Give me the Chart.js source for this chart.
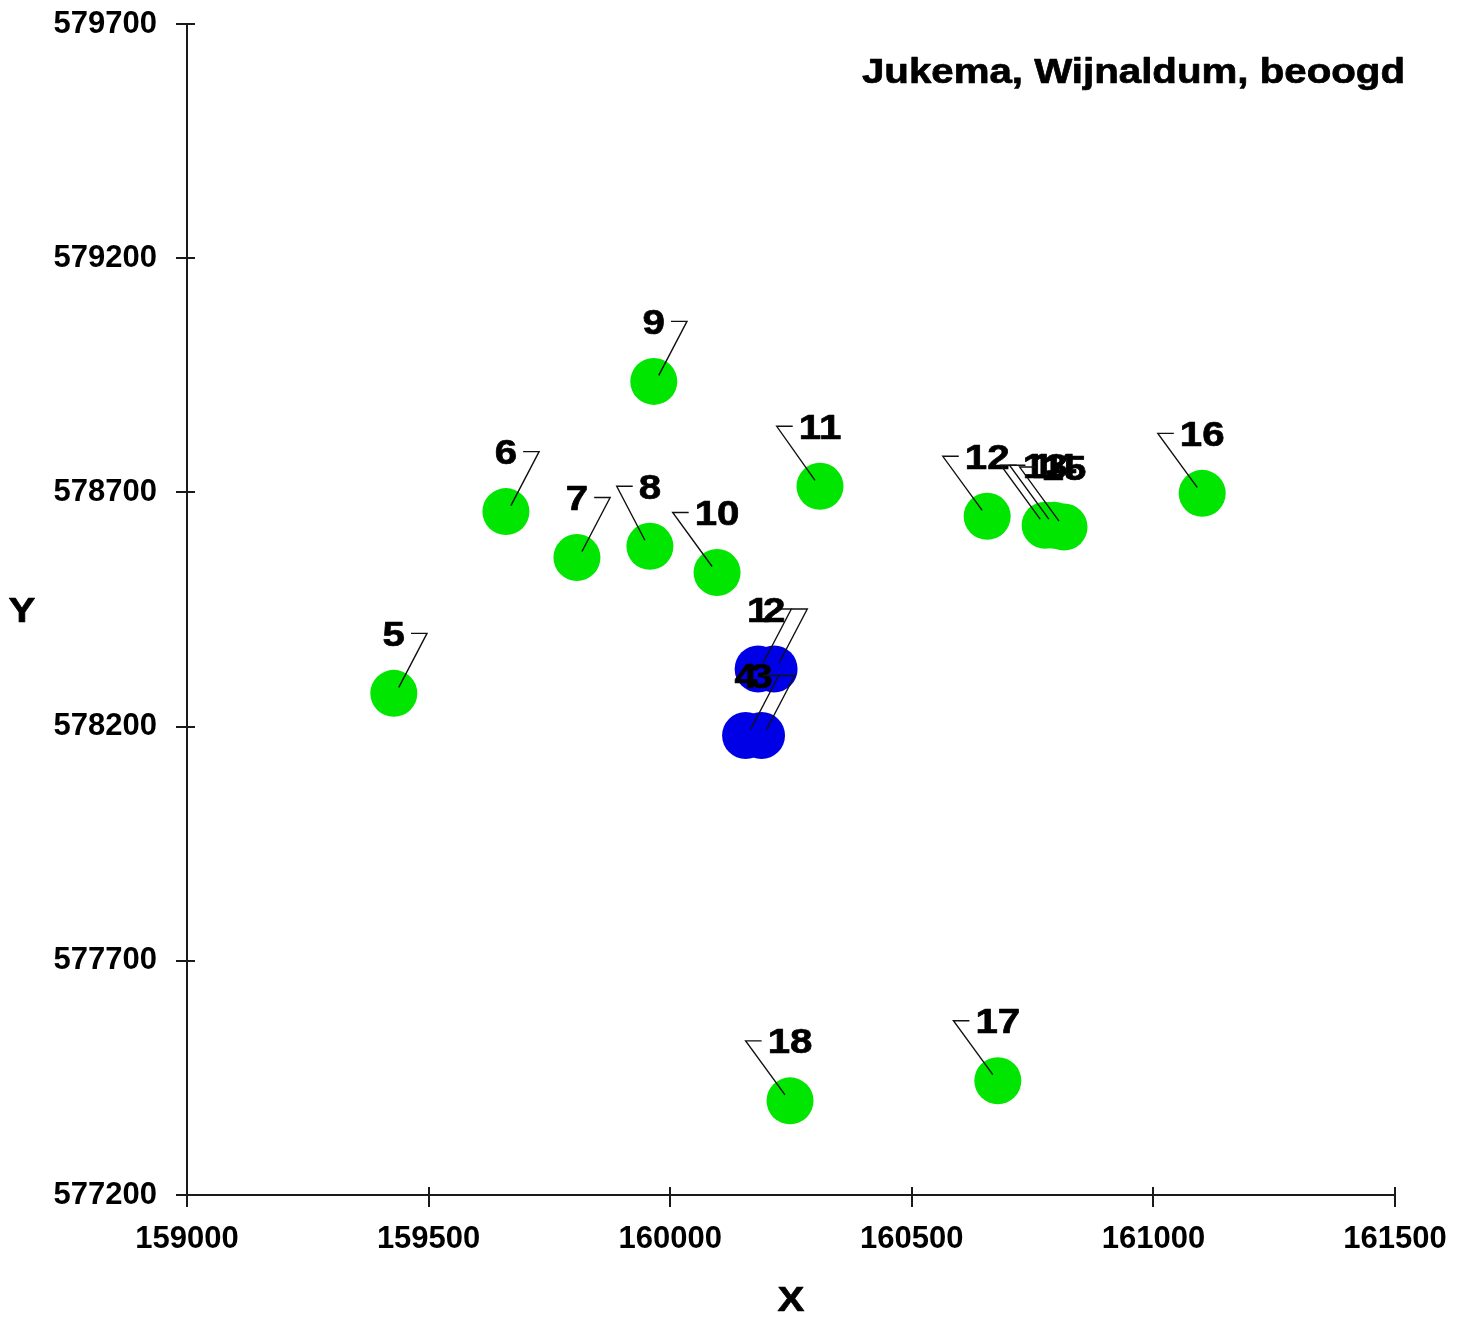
<!DOCTYPE html>
<html>
<head>
<meta charset="utf-8">
<script src="https://cdn.jsdelivr.net/npm/chart.js@4/dist/chart.umd.min.js"></script>
<style>
  html, body { margin: 0; padding: 0; background: #ffffff; }
  #wrap { width: 1466px; height: 1321px; position: relative; }
</style>
</head>
<body>
<div id="wrap"><canvas id="c"></canvas></div>
<script>
// Well locations (RD coordinates) — planned wells in green, existing in blue
const greenIds = ['5', '6', '7', '8', '9', '10', '11', '12', '13', '14', '15', '16', '17', '18'];
const greenX = [159428, 159660, 159807, 159958, 159966, 160097, 160310, 160656, 160776, 160794, 160815, 161101, 160678, 160248];
const greenY = [578271, 578659, 578561, 578585, 578937, 578529, 578713, 578649, 578630, 578630, 578626, 578698, 577444, 577401];

const blueIds = ['1', '2', '3', '4'];
const blueX = [160182, 160215, 160189, 160156];
const blueY = [578323, 578323, 578181, 578181];

const xTicks = [159000, 159500, 160000, 160500, 161000, 161500];
const yTicks = [577200, 577700, 578200, 578700, 579200, 579700];

const chartTitle = 'Jukema, Wijnaldum, beoogd';
const xTitle = 'X';
const yTitle = 'Y';

// Labels whose leader bends to the right of the text; all others bend left
const leaderRight = new Set(['1', '2', '3', '4', '5', '6', '7', '9']);

const FONT = '"Liberation Sans", Arial, Helvetica, sans-serif';
const TEXT_STRETCH = 1.15;
const LABEL_SIZE = 35;
const INK = '#000000';
const AXIS = '#1a1a1a';

function toPoints(xs, ys, ids) {
  return xs.map((x, i) => ({ x: x, y: ys[i], id: ids[i] }));
}

// Bold text widened horizontally, positioned by the vertical centre of its capitals
function wideText(ctx, text, x, cy, size, align) {
  ctx.save();
  ctx.font = `bold ${size}px ${FONT}`;
  const w = ctx.measureText(text).width * TEXT_STRETCH;
  const left = align === 'center' ? x - w / 2 : align === 'right' ? x - w : x;
  ctx.translate(left, cy + size * 0.358);
  ctx.scale(TEXT_STRETCH, 1);
  ctx.textAlign = 'left';
  ctx.textBaseline = 'alphabetic';
  ctx.fillStyle = INK;
  ctx.strokeStyle = INK;
  ctx.lineWidth = 0.7;
  ctx.lineJoin = 'round';
  ctx.fillText(text, 0, 0);
  ctx.strokeText(text, 0, 0);
  ctx.restore();
  return w;
}

const decorPlugin = {
  id: 'wellDecor',
  afterDatasetsDraw(chart) {
    const ctx = chart.ctx;
    const area = chart.chartArea;
    const xs = chart.scales.x;
    const ys = chart.scales.y;

    // axis lines with ticks crossing them
    ctx.save();
    ctx.strokeStyle = AXIS;
    ctx.lineWidth = 2;
    ctx.beginPath();
    ctx.moveTo(area.left, area.top);
    ctx.lineTo(area.left, area.bottom);
    ctx.moveTo(area.left - 11, area.bottom);
    ctx.lineTo(area.right, area.bottom);
    yTicks.forEach(v => {
      const py = Math.round(ys.getPixelForValue(v));
      ctx.moveTo(area.left - 11, py);
      ctx.lineTo(area.left + 8, py);
    });
    xTicks.forEach(v => {
      const px = Math.round(xs.getPixelForValue(v));
      ctx.moveTo(px, area.bottom - 8);
      ctx.lineTo(px, area.bottom + 12);
    });
    ctx.stroke();
    ctx.restore();

    // point labels with bent leader lines
    chart.data.datasets.forEach((ds, di) => {
      const meta = chart.getDatasetMeta(di);
      meta.data.forEach((el, i) => {
        const id = ds.data[i].id;
        const px = el.x, py = el.y;
        const ty = py - 60;
        ctx.save();
        ctx.font = `bold ${LABEL_SIZE}px ${FONT}`;
        const hw = ctx.measureText(id).width * TEXT_STRETCH / 2;
        const right = leaderRight.has(id);
        const cx = right ? px + hw + 22 : px - hw - 22;
        const sx = right ? cx - 16 : cx + 16;
        const ex = right ? px + 5 : px - 5;
        ctx.strokeStyle = '#111111';
        ctx.lineWidth = 1.4;
        ctx.beginPath();
        ctx.moveTo(sx, ty);
        ctx.lineTo(cx, ty);
        ctx.lineTo(ex, py - 6);
        ctx.stroke();
        ctx.restore();
        wideText(ctx, id, px, ty, LABEL_SIZE, 'center');
      });
    });

    // chart title and axis titles
    wideText(ctx, chartTitle, 1405, 70, LABEL_SIZE, 'right');
    wideText(ctx, xTitle, (area.left + area.right) / 2, 1298, LABEL_SIZE, 'center');
    wideText(ctx, yTitle, 22, (area.top + area.bottom) / 2, LABEL_SIZE, 'center');
  }
};

function fixedTicks(list) {
  return function (scale) {
    scale.ticks = list.map(v => ({ value: v }));
  };
}

new Chart(document.getElementById('c'), {
  type: 'scatter',
  data: {
    datasets: [
      {
        label: 'beoogd',
        data: toPoints(greenX, greenY, greenIds),
        backgroundColor: '#00e600',
        borderWidth: 0,
        pointRadius: 23.5,
        pointHoverRadius: 23.5
      },
      {
        label: 'bestaand',
        data: toPoints(blueX, blueY, blueIds),
        backgroundColor: '#0000e6',
        borderWidth: 0,
        pointRadius: 23.5,
        pointHoverRadius: 23.5
      }
    ]
  },
  options: {
    responsive: true,
    maintainAspectRatio: false,
    animation: false,
    events: [],
    layout: { padding: { top: 24, right: 71, left: 0, bottom: 0 } },
    plugins: {
      legend: { display: false },
      title: { display: false },
      tooltip: { enabled: false }
    },
    scales: {
      x: {
        type: 'linear',
        min: 159000,
        max: 161500,
        afterBuildTicks: fixedTicks(xTicks),
        afterFit(scale) { scale.height = 126; },
        grid: { display: false, drawTicks: true, tickLength: 26 },
        border: { display: false },
        ticks: {
          padding: 0,
          maxRotation: 0,
          autoSkip: false,
          color: INK,
          font: { family: FONT, size: 31, weight: 'bold' },
          callback: v => String(v)
        }
      },
      y: {
        type: 'linear',
        min: 577200,
        max: 579700,
        afterBuildTicks: fixedTicks(yTicks),
        afterFit(scale) { scale.width = 187; },
        grid: { display: false, drawTicks: true, tickLength: 30 },
        border: { display: false },
        ticks: {
          padding: 0,
          autoSkip: false,
          color: INK,
          font: { family: FONT, size: 31, weight: 'bold' },
          callback: v => String(v)
        }
      }
    }
  },
  plugins: [decorPlugin]
});
</script>
</body>
</html>
